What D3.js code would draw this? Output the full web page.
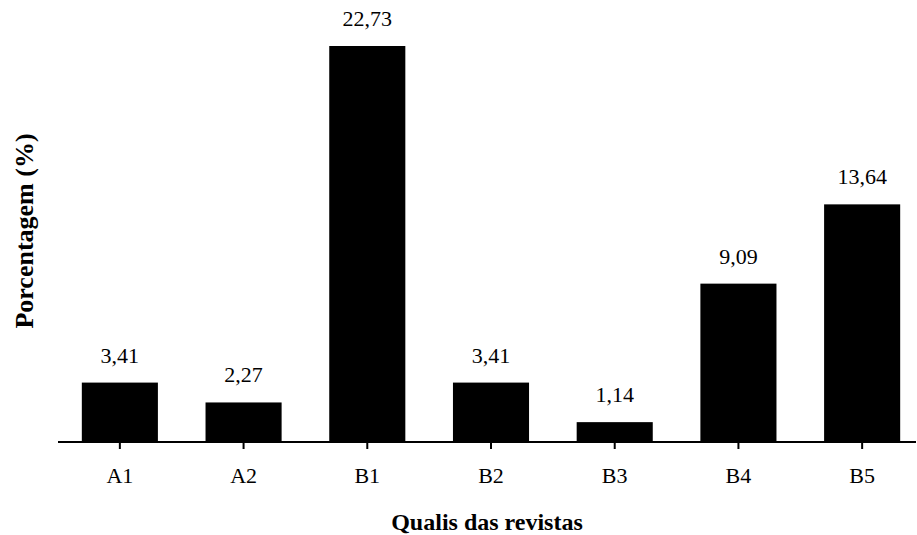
<!DOCTYPE html>
<html>
<head>
<meta charset="utf-8">
<script src="https://cdn.jsdelivr.net/npm/d3@7"></script>
<style>
html,body{margin:0;padding:0;background:#fff;}
svg{display:block;}
</style>
</head>
<body>
<svg id="chart" width="917" height="535"></svg>
<script>
const categories = ["A1","A2","B1","B2","B3","B4","B5"];
const values = [3.41, 2.27, 22.73, 3.41, 1.14, 9.09, 13.64];
const valueLabels = ["3,41","2,27","22,73","3,41","1,14","9,09","13,64"];
const xTitle = "Qualis das revistas";
const yTitle = "Porcentagem (%)";

const FONT = "'Liberation Serif'";
const svg = d3.select("#chart");
const baseY = 442;
const axisX0 = 58, axisX1 = 916;

const x = d3.scaleBand().domain(categories).range([58, 924]).paddingInner(0.385).paddingOuter(0.1925);
const y = d3.scaleLinear().domain([0, 22.73]).range([baseY, 46]);

svg.selectAll("rect.bar").data(values).join("rect")
  .attr("class","bar")
  .attr("x",(d,i)=>x(categories[i]))
  .attr("width",x.bandwidth())
  .attr("y",d=>y(d))
  .attr("height",d=>baseY-y(d))
  .attr("fill","#000");

svg.selectAll("text.val").data(values).join("text")
  .attr("class","val")
  .attr("x",(d,i)=>x(categories[i])+x.bandwidth()/2)
  .attr("y",d=>y(d)-20)
  .attr("text-anchor","middle")
  .style("font-family",FONT)
  .style("font-size","22px")
  .attr("fill","#000")
  .text((d,i)=>valueLabels[i]);

const axis = svg.append("g").attr("transform",`translate(0,${baseY})`)
  .call(d3.axisBottom(x).tickSize(7).tickPadding(18));
axis.select(".domain").remove();
axis.selectAll(".tick line").attr("stroke","#000").attr("stroke-width",2);
axis.selectAll(".tick text").style("font-size","22px").style("font-family",FONT).attr("fill","#000");
svg.append("line").attr("x1",axisX0).attr("x2",axisX1).attr("y1",baseY).attr("y2",baseY)
  .attr("stroke","#000").attr("stroke-width",2);

svg.append("text").attr("x",(axisX0+axisX1)/2).attr("y",530)
  .attr("text-anchor","middle").style("font-family",FONT).style("font-size","24px").style("font-weight","bold").attr("fill","#000").text(xTitle);

svg.append("text").attr("transform","translate(33,231) rotate(-90)")
  .attr("text-anchor","middle").style("font-family",FONT).style("font-size","26px").style("font-weight","bold").attr("fill","#000").text(yTitle);
</script>
</body>
</html>
